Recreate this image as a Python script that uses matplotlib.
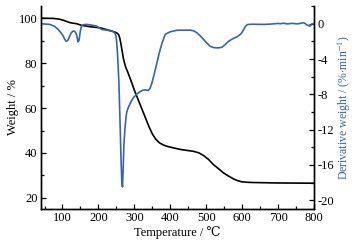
import numpy as np
import matplotlib
matplotlib.use('Agg')
import matplotlib.pyplot as plt
from matplotlib.ticker import MultipleLocator

plt.rcParams['font.family'] = ['Liberation Serif', 'DejaVu Serif']
plt.rcParams['mathtext.fontset'] = 'stix'
plt.rcParams['axes.unicode_minus'] = False

# TG curve (weight %)
tg_t = [40, 74, 90, 102, 121, 140, 153, 177, 205, 232, 246, 252, 256, 259,
        262, 266, 270, 276, 281, 290, 300, 310, 320, 330, 340, 350, 360,
        370, 380, 390, 410, 430, 465, 480, 493, 507, 520, 534, 548, 562,
        576, 588, 600, 615, 632, 700, 800]
tg_w = [100.1, 100.0, 99.7, 99.2, 98.1, 97.6, 96.9, 96.3, 95.8, 94.6,
        93.9, 93.4, 92.8, 91.5, 89.2, 85.5, 81.7, 78.2, 76.3, 72.5, 68.0,
        64.0, 60.0, 56.0, 52.0, 48.5, 46.0, 44.5, 43.6, 43.0, 42.2, 41.5,
        40.7, 40.0, 38.8, 37.0, 34.8, 33.0, 31.1, 29.7, 28.4, 27.6, 27.1,
        26.9, 26.8, 26.6, 26.5]

# DTG curve (%/min)
dtg_t = [40, 65, 78, 88, 95, 102, 106, 110, 113, 116, 120, 125, 129, 133,
         137, 140, 143, 146, 149, 153, 160, 167, 180, 195, 209, 228, 242,
         246, 249, 251, 253, 255, 257, 260, 263, 265, 267, 269, 271, 274,
         277, 279, 283, 290, 297, 306, 316, 323, 330, 339, 344, 349, 356,
         363, 370, 377, 386, 400, 418, 428, 445, 455, 465, 474, 484, 493,
         502, 511, 520, 530, 537, 544, 553, 562, 574, 586, 597, 603, 609,
         614, 618, 630, 660, 680, 700, 706, 715, 725, 740, 753, 762, 771,
         776, 780, 784, 788, 792, 795, 800]
dtg_v = [0.0, -0.08, -0.3, -0.65, -1.0, -1.4, -1.75, -1.98, -1.95, -1.8,
         -1.4, -1.0, -0.85, -0.84, -1.0, -1.4, -2.05, -1.9, -1.0, -0.2,
         -0.1, -0.08, -0.15, -0.27, -0.65, -0.76, -0.91, -1.1, -1.4, -2.2,
         -3.3, -4.9, -6.7, -10.9, -15.5, -17.8, -18.5, -16.3, -13.6, -11.8,
         -10.5, -10.0, -9.5, -8.9, -8.4, -8.0, -7.7, -7.55, -7.5, -7.56,
         -7.3, -6.7, -5.6, -4.4, -3.2, -2.2, -1.2, -0.91, -0.75, -0.73,
         -0.73, -0.73, -0.8, -1.03, -1.4, -1.8, -2.2, -2.55, -2.7, -2.74,
         -2.72, -2.66, -2.35, -2.0, -1.7, -1.48, -1.15, -0.75, -0.3, -0.12,
         -0.08, -0.06, -0.08, -0.04, 0.03, 0.0, 0.06, -0.02, 0.04, -0.02,
         0.04, 0.12, 0.0, -0.15, -0.2, -0.27, -0.15, 0.0, 0.0]

fig = plt.figure(figsize=(3.56, 2.43), dpi=100)
ax = fig.add_axes([0.115, 0.14, 0.767, 0.835])
ax2 = ax.twinx()

ax.plot(tg_t, tg_w, color='black', lw=1.2)
ax2.plot(dtg_t, dtg_v, color='#3763b5', lw=1.2)

ax.set_xlim(40, 800)
ax.set_ylim(15, 105.5)
ax2.set_ylim(-21, 2)

ax.xaxis.set_minor_locator(MultipleLocator(50))
ax.set_xticks([100, 200, 300, 400, 500, 600, 700, 800])
ax.yaxis.set_minor_locator(MultipleLocator(10))
ax.set_yticks([20, 40, 60, 80, 100])
ax2.yaxis.set_minor_locator(MultipleLocator(2))
ax2.set_yticks([0, -4, -8, -12, -16, -20])

for a in (ax, ax2):
    a.spines['top'].set_visible(False)
    a.tick_params(which='both', direction='in', labelsize=9, width=0.9)
    a.tick_params(which='major', length=3.5, pad=2.5)
    a.tick_params(which='minor', length=2)
    for s in a.spines.values():
        s.set_linewidth(1.0)

ax.set_xlabel('Temperature / ℃', fontsize=9, labelpad=1)
ax.set_ylabel('Weight / %', fontsize=9, labelpad=0)
ax2.set_ylabel('Derivative weight / (%$\\cdot$min$^{-1}$)', fontsize=8.5,
               color='#3763b5', labelpad=1)

fig.savefig('out.png', dpi=100)
